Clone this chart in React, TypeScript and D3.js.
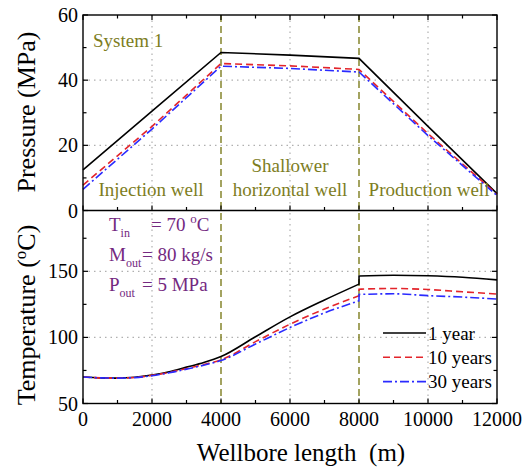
import React from "react";
import * as d3 from "d3";

const xTicks = [0, 2000, 4000, 6000, 8000, 10000, 12000];
const pTicks = [0, 20, 40, 60];
const tTicks = [50, 100, 150];
const seriesNames = ["1 year", "10 years", "30 years"];

const p1 = [[0, 12.5], [2000, 30.5], [4000, 48.5], [6000, 47.7], [8000, 46.7], [10000, 25.8], [12000, 5.2]];
const p10 = [[0, 7.8], [2000, 25.8], [4000, 45.1], [6000, 44.4], [8000, 43.3], [10000, 23.6], [12000, 5.0]];
const p30 = [[0, 6.5], [2000, 25.0], [4000, 44.3], [6000, 43.6], [8000, 42.5], [10000, 23.0], [12000, 4.6]];

const t1 = [[0, 70], [500, 69.4], [1000, 69.2], [1500, 69.8], [2000, 71.5], [2500, 74], [3000, 77.5], [3500, 81], [4000, 85.5], [5000, 100.5], [6000, 115.5], [7000, 128.3], [8000, 140.3], [8001, 146.5], [9000, 147], [10000, 146.6], [11000, 145.5], [12000, 143.5]];
const t10 = [[0, 70], [500, 69.4], [1000, 69.2], [1500, 69.7], [2000, 71.3], [2500, 73.5], [3000, 76.5], [3500, 79.5], [4000, 83], [5000, 96.8], [6000, 110], [7000, 121.5], [8000, 131.5], [8001, 136.5], [9000, 137], [10000, 136.2], [11000, 134.5], [12000, 132.8]];
const t30 = [[0, 70], [500, 69.4], [1000, 69.2], [1500, 69.6], [2000, 71], [2500, 73.2], [3000, 76], [3500, 79], [4000, 82.5], [5000, 95], [6000, 107.5], [7000, 118.5], [8000, 127.7], [8001, 132.5], [9000, 133], [10000, 131.6], [11000, 130.5], [12000, 129]];

const colors = ["#000000", "#e3242b", "#2a2aff"];
const dashes = ["none", "7,4", "9,3,2,3"];

const L = 83, R = 497, T = 15, M = 210.5, B = 403.5;
const FONT = "Liberation Serif, Times New Roman, Times, DejaVu Serif, serif";
const OLIVE = "#7d7d1e";
const PURPLE = "#74297f";

export default function App() {
  const x = d3.scaleLinear().domain([0, 12000]).range([L, R]);
  const yP = d3.scaleLinear().domain([0, 60]).range([M, T]);
  const yT = d3.scaleLinear().domain([50, 196]).range([B, M]);
  const lineP = d3.line<number[]>().x(d => x(d[0])).y(d => yP(d[1]));
  const lineT = d3.line<number[]>().x(d => x(d[0])).y(d => yT(d[1])).curve(d3.curveMonotoneX);
  const tPath = (s: number[][]) => {
    const a = s.filter(d => d[0] <= 8000);
    const b = s.filter(d => d[0] > 8000);
    return (lineT(a) || "") + (lineT(b) || "").replace(/^M/, "L");
  };
  const pSeries = [p1, p10, p30];
  const tSeries = [t1, t10, t30];
  const xMinor = d3.range(1000, 12000, 2000);
  const gridStyle = { stroke: "#b0b0b0", strokeWidth: 1.2, strokeDasharray: "1.5,4" };
  const ts = { fontFamily: FONT };

  const ticksX = (y0: number, dir: number) => (
    <g>
      {xTicks.map(v => <line key={"M" + v} x1={x(v)} x2={x(v)} y1={y0} y2={y0 + dir * 5} stroke="#000" strokeWidth={1.2} />)}
      {xMinor.map(v => <line key={"m" + v} x1={x(v)} x2={x(v)} y1={y0} y2={y0 + dir * 3.5} stroke="#000" strokeWidth={1.2} />)}
    </g>
  );
  const ticksY = (scale: any, major: number[], minor: number[]) => (
    <g>
      {major.map(v => (
        <g key={"M" + v}>
          <line x1={L} x2={L + 5} y1={scale(v)} y2={scale(v)} stroke="#000" strokeWidth={1.2} />
          <line x1={R} x2={R - 5} y1={scale(v)} y2={scale(v)} stroke="#000" strokeWidth={1.2} />
        </g>
      ))}
      {minor.map(v => (
        <g key={"m" + v}>
          <line x1={L} x2={L + 3.5} y1={scale(v)} y2={scale(v)} stroke="#000" strokeWidth={1.2} />
          <line x1={R} x2={R - 3.5} y1={scale(v)} y2={scale(v)} stroke="#000" strokeWidth={1.2} />
        </g>
      ))}
    </g>
  );

  return (
    <svg width={522} height={472} style={{ position: "absolute", left: 0, top: 0, background: "#fff", fontFamily: FONT }}>
      <rect width={522} height={472} fill="#fff" />
      {[2000, 6000, 10000].map(v => <line key={"gx" + v} x1={x(v)} x2={x(v)} y1={T} y2={B} style={gridStyle} />)}
      {[20, 40].map(v => <line key={"gp" + v} x1={L} x2={R} y1={yP(v)} y2={yP(v)} style={gridStyle} />)}
      {[100, 150].map(v => <line key={"gt" + v} x1={L} x2={R} y1={yT(v)} y2={yT(v)} style={gridStyle} />)}
      {[4000, 8000].map(v => <line key={"d" + v} x1={x(v)} x2={x(v)} y1={T} y2={B} stroke={OLIVE} strokeWidth={1.4} strokeDasharray="7,4" />)}

      {pSeries.map((s, i) => <path key={"p" + i} d={lineP(s) || ""} fill="none" stroke={colors[i]} strokeWidth={1.6} strokeDasharray={dashes[i]} />)}
      {tSeries.map((s, i) => <path key={"t" + i} d={tPath(s)} fill="none" stroke={colors[i]} strokeWidth={1.6} strokeDasharray={dashes[i]} />)}

      <rect x={L} y={T} width={R - L} height={B - T} fill="none" stroke="#000" strokeWidth={1.4} />
      <line x1={L} x2={R} y1={M} y2={M} stroke="#000" strokeWidth={1.4} />
      {ticksX(T, 1)}
      {ticksX(M, -1)}
      {ticksX(B, -1)}
      {ticksY(yP, pTicks, [10, 30, 50])}
      {ticksY(yT, tTicks, [75, 125, 175])}

      {xTicks.map(v => <text key={"xl" + v} style={ts} x={x(v)} y={426} fontSize={20} textAnchor="middle">{v}</text>)}
      {pTicks.map(v => <text key={"pl" + v} style={ts} x={78} y={yP(v) + 7} fontSize={20} textAnchor="end">{v}</text>)}
      {tTicks.map(v => <text key={"tl" + v} style={ts} x={78} y={yT(v) + 7} fontSize={20} textAnchor="end">{v}</text>)}

      <text style={ts} transform="translate(35,112) rotate(-90)" fontSize={26} textAnchor="middle">Pressure (MPa)</text>
      <text style={ts} transform="translate(35,315) rotate(-90)" fontSize={26} textAnchor="middle">
        Temperature (<tspan fontSize={17} dy={-9}>o</tspan><tspan dy={9}>C)</tspan>
      </text>
      <text style={{ ...ts, whiteSpace: "pre" }} x={301} y={461} fontSize={25} textAnchor="middle">Wellbore length  (m)</text>

      <text style={ts} x={93} y={47} fontSize={19} fill={OLIVE}>System 1</text>
      <text style={ts} x={151} y={196} fontSize={19} fill={OLIVE} textAnchor="middle">Injection well</text>
      <text style={ts} x={290} y={172} fontSize={19} fill={OLIVE} textAnchor="middle">Shallower</text>
      <text style={ts} x={290} y={196} fontSize={19} fill={OLIVE} textAnchor="middle">horizontal well</text>
      <text style={ts} x={429} y={196} fontSize={19} fill={OLIVE} textAnchor="middle">Production well</text>

      <g fill={PURPLE} fontSize={19}>
        <text style={ts} x={109} y={231}>T<tspan fontSize={12} dy={6}>in</tspan></text>
        <text style={ts} x={151} y={231}>= 70 <tspan fontSize={13} dy={-8}>o</tspan><tspan dy={8}>C</tspan></text>
        <text style={ts} x={109} y={261}>M<tspan fontSize={12} dy={6}>out</tspan></text>
        <text style={ts} x={142} y={261}>= 80 kg/s</text>
        <text style={ts} x={109} y={291}>P<tspan fontSize={12} dy={6}>out</tspan></text>
        <text style={ts} x={142} y={291}>= 5 MPa</text>
      </g>

      {seriesNames.map((n, i) => {
        const ly = 333 + i * 24.3;
        return (
          <g key={"lg" + i}>
            <line x1={383} x2={426} y1={ly} y2={ly} stroke={colors[i]} strokeWidth={1.6} strokeDasharray={dashes[i]} />
            <text style={ts} x={428} y={ly + 6.5} fontSize={19}>{n}</text>
          </g>
        );
      })}
    </svg>
  );
}
